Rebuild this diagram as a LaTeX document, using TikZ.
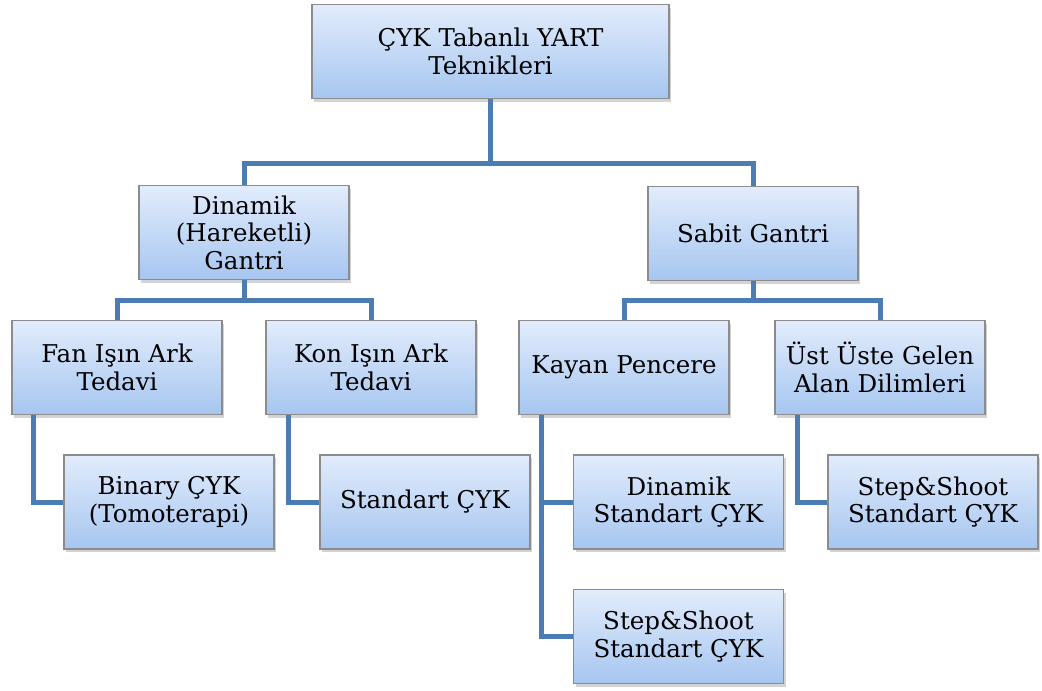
\documentclass[tikz,border=0pt]{standalone}
\usepackage{fontspec}
\setmainfont{DejaVu Serif}
\usetikzlibrary{shadows}
\definecolor{linkblue}{RGB}{76,124,180}
\definecolor{boxtop}{RGB}{226,236,252}
\definecolor{boxbot}{RGB}{166,198,240}
\tikzset{
	box/.style={rectangle, draw=gray!90, line width=1.2pt, top color=boxtop, bottom color=boxbot, align=center, minimum width=210pt, minimum height=94pt, font=\fontsize{24.5}{27.5}\selectfont, text=black, drop shadow={opacity=0.35, shadow xshift=2pt, shadow yshift=-3pt}},
	conn/.style={draw=linkblue, line width=5pt}
}

\begin{document}
\begin{tikzpicture}[x=1pt, y=-1pt]
        \useasboundingbox (0,0) rectangle (1042,691);
        \node[box, minimum width=357pt] (root) at (490.5, 51.5) {ÇYK Tabanlı YART\\Teknikleri};
        \node[box] (dyn) at (244, 232.5) {Dinamik\\(Hareketli)\\Gantri};
        \node[box] (fixed) at (753, 233.5) {Sabit Gantri};
        \node[box] (fan) at (117, 367.5) {Fan Işın Ark\\Tedavi};
        \node[box] (kon) at (371, 367.5) {Kon Işın Ark\\Tedavi};
        \node[box] (kayan) at (624, 367.5) {Kayan Pencere};
        \node[box] (ust) at (880, 367.5) {Üst Üste Gelen\\Alan Dilimleri};
        \node[box] (binary) at (169, 502) {Binary ÇYK\\(Tomoterapi)};
        \node[box] (std) at (425, 502) {Standart ÇYK};
        \node[box] (dss) at (678.5, 502) {Dinamik\\Standart ÇYK};
        \node[box] (sss) at (678.5, 636.5) {Step\&Shoot\\Standart ÇYK};
        \node[box] (uss) at (933, 502) {Step\&Shoot\\Standart ÇYK};

        \coordinate (top) at (490.5, 163);
        \coordinate (left) at (244, 300);
        \coordinate (right) at (753, 300);

        \draw[conn] (root.south) -- (top);
        \draw[conn] (dyn.north) |- (top) -| (fixed.north);
        \draw[conn] (dyn.south) -- (left);
        \draw[conn] (fan.north) |- (left) -| (kon.north);
        \draw[conn] (fixed.south) -- (right);
        \draw[conn] (kayan.north) |- (right) -| (ust.north);
        \draw[conn] ([xshift=-84pt]fan.south) |- (binary.west);
        \draw[conn] ([xshift=-83pt]kon.south) |- (std.west);
        \draw[conn] ([xshift=-83pt]kayan.south) |- (dss.west);
        \draw[conn] ([xshift=-83pt]kayan.south) |- (sss.west);
        \draw[conn] ([xshift=-83pt]ust.south) |- (uss.west);
    \end{tikzpicture}
\end{document}
